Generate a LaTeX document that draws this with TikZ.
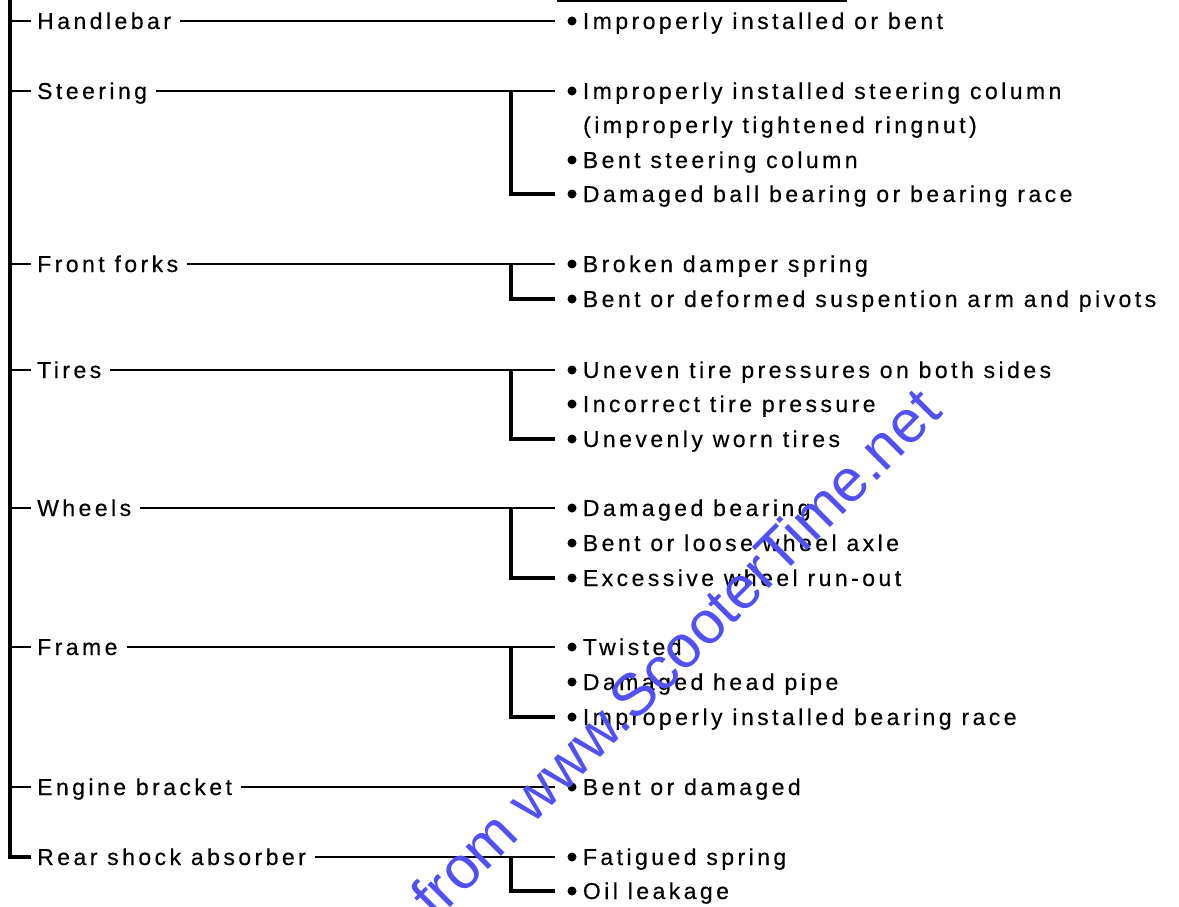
\documentclass[tikz,border=0pt]{standalone}
\usepackage{fontspec}
\setmainfont{Liberation Sans}[LetterSpace=15, FakeBold=0.4]
\newfontfamily\wmfont{Liberation Sans}
\usepackage{tikz}
\usetikzlibrary{positioning,calc}
\definecolor{wmblue}{RGB}{80,80,245}

\begin{document}
\begin{tikzpicture}[
  x=1pt, y=-1pt,
  font=\fontsize{23}{27}\selectfont,
  cat/.style={anchor=west, inner sep=0pt, text height=16pt, text depth=0pt},
  item/.style={cat},
  dot/.style={circle, fill=black, inner sep=0pt, minimum size=9pt},
  link/.style={line width=2.8pt},
  brace/.style={line width=3.2pt},
  wm/.style={wmblue, inner sep=0pt, font=\wmfont\fontsize{60}{70}\selectfont}
]
\useasboundingbox (0,0) rectangle (1179,907);
\coordinate (trunk) at (10,0);
\coordinate (jx) at (511,0);

% fault groups
\node[cat] (hb) at (37,21)  {Handlebar};
\node[cat] (st) at (37,91)  {Steering};
\node[cat] (ff) at (37,264) {Front forks};
\node[cat] (ti) at (37,370) {Tires};
\node[cat] (wh) at (37,508) {Wheels};
\node[cat] (fr) at (37,647) {Frame};
\node[cat] (eb) at (37,787) {Engine bracket};
\node[cat] (rs) at (37,857) {Rear shock absorber};

% causes
\foreach \n/\y/\t in {
  hb1/21/Improperly installed or bent,
  st1/91/Improperly installed steering column,
  st2/160/Bent steering column,
  st3/194/Damaged ball bearing or bearing race,
  ff1/264/Broken damper spring,
  ff2/299/Bent or deformed suspention arm and pivots,
  ti1/370/Uneven tire pressures on both sides,
  ti2/404/Incorrect tire pressure,
  ti3/439/Unevenly worn tires,
  wh1/508/Damaged bearing,
  wh2/543/Bent or loose wheel axle,
  wh3/578/Excessive wheel run-out,
  fr1/647/Twisted,
  fr2/682/Damaged head pipe,
  fr3/717/Improperly installed bearing race,
  eb1/787/Bent or damaged,
  rs1/857/Fatigued spring,
  rs2/891/Oil leakage}
{
  \node[dot] (\n-d) at (572,\y) {};
  \node[item, right=6pt of \n-d] (\n) {\t};
}
\node[item] (st1x) at (583,125) {(improperly tightened ringnut)};

\draw[brace] (trunk) |- ([xshift=-6pt]rs.west);
\foreach \c in {hb,st,ff,ti,wh,fr,eb}
  \draw[link] (\c.west -| trunk) -- ([xshift=-6pt]\c.west);

\foreach \c/\f in {hb/hb1, st/st1, ff/ff1, ti/ti1, wh/wh1, fr/fr1, eb/eb1, rs/rs1}
  \draw[link] ([xshift=9pt]\c.east) -- ([xshift=-12pt]\f-d.west);

\foreach \f/\l in {st1/st3, ff1/ff2, ti1/ti3, wh1/wh3, fr1/fr3, rs1/rs2}
  \draw[brace] (\f-d.west -| jx) -- (\l-d.west -| jx) -- ([xshift=-12pt]\l-d.west);

\draw[link] (557,1) -- (847,1);

\node[wm, rotate=45, anchor=base west] (wmark) at (436,922) {from www.ScooterTime.net};
\end{tikzpicture}
\end{document}
